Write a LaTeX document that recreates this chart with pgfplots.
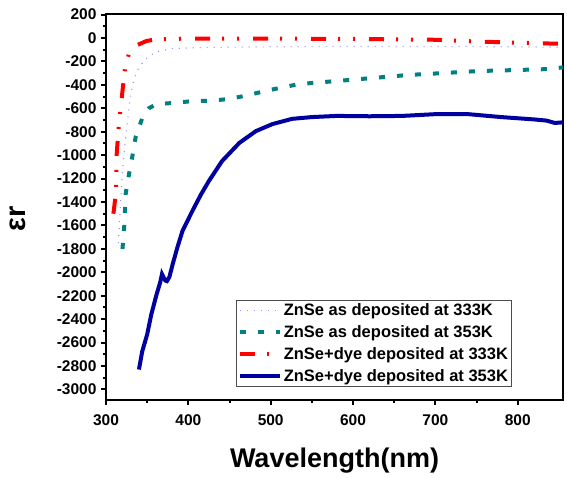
\documentclass[border=0pt]{standalone}
\usepackage{pgfplots}
\pgfplotsset{compat=1.18}
\usepackage{fontspec}
\setmainfont{Liberation Sans}

\definecolor{lav}{RGB}{150,150,255}
\definecolor{tealc}{RGB}{0,128,128}
\definecolor{navyc}{RGB}{0,0,160}

\begin{document}
\begin{tikzpicture}
\begin{axis}[
    width=457pt, height=386pt, scale only axis,
    xmin=300, xmax=855, ymin=-3090, ymax=205,
    xtick={300,400,...,800}, minor x tick num=1,
    ytick={-3000,-2800,...,200}, minor y tick num=1,
    xtick pos=left, ytick pos=left,
    tick align=outside, major tick length=5pt, minor tick length=3pt,
    axis line style={line width=2.5pt},
    every tick/.style={black, line width=2pt},
    ticklabel style={font=\fontsize{15.5}{17}\selectfont\bfseries},
    xticklabel style={yshift=-6pt},
    yticklabel style={xshift=-1pt},
    /pgf/number format/assume math mode=true,
    /pgf/number format/1000 sep={},
    xlabel={Wavelength(nm)}, ylabel={εr},
    xlabel style={font=\fontsize{27}{30}\selectfont\bfseries,
        at={(axis description cs:0.5,-0.176)}, anchor=base},
    ylabel style={font=\fontsize{29}{32}\selectfont\bfseries,
        at={(axis description cs:-0.193,0.47)}, anchor=center},
    legend style={at={(0.888,0.034)}, anchor=south east,
        font=\fontsize{16.5}{18}\selectfont\bfseries,
        draw=black!70, line width=0.6pt, inner sep=1.5pt, row sep=4.5pt,
        cells={anchor=west}},
    legend image code/.code={\draw[#1] (0pt,0pt) -- (40pt,0pt);},
]
% ZnSe as deposited at 333K
\addplot[lav, line width=1.2pt, dash pattern=on 1pt off 6pt] coordinates {
    (315,-1750) (317,-1500) (319,-1250) (321,-1050) (324,-850) (327,-650)
    (330,-480) (334,-350) (340,-250) (348,-180) (360,-120) (380,-90)
    (420,-80) (500,-75) (600,-72) (700,-72) (800,-75) (855,-80)
};
\addlegendentry{ZnSe as deposited at 333K}
% ZnSe as deposited at 353K
\addplot[tealc, line width=4pt, dash pattern=on 6pt off 12pt] coordinates {
    (320,-1800) (322,-1630) (323,-1480) (324,-1325) (328,-1160) (332,-1010)
    (336,-846) (344,-685) (352,-600) (361,-565) (380,-555) (403,-540)
    (428,-535) (450,-520) (471,-490) (493,-453) (515,-420) (535,-393)
    (580,-367) (623,-342) (666,-316) (710,-299) (752,-282) (795,-274)
    (838,-265) (855,-250)
};
\addlegendentry{ZnSe as deposited at 353K}
% ZnSe+dye deposited at 333K
\addplot[red, line width=4pt,
    dash pattern=on 15pt off 12pt on 2pt off 13pt on 2pt off 14pt] coordinates {
    (309,-1500) (312,-1325) (313,-990) (315,-795) (317,-650) (320,-453)
    (323,-265) (328,-128) (338,-60) (349,-26) (361,-10) (400,-5)
    (500,-5) (600,-8) (700,-15) (750,-30) (800,-40) (855,-50)
};
\addlegendentry{ZnSe+dye deposited at 333K}
% ZnSe+dye deposited at 353K
\addplot[navyc, line width=4pt] coordinates {
    (340,-2830) (344,-2675) (350,-2530) (355,-2360) (361,-2200) (366,-2080)
    (368,-2015) (372,-2070) (374,-2075) (377,-2040) (381,-1930) (387,-1780)
    (393,-1645) (405,-1475) (415,-1340) (425,-1220) (441,-1050) (462,-895)
    (482,-795) (502,-735) (526,-690) (550,-675) (580,-665) (620,-668)
    (660,-665) (700,-650) (740,-650) (780,-675) (800,-685) (820,-695)
    (835,-705) (845,-725) (855,-720)
};
\addlegendentry{ZnSe+dye deposited at 353K}
\end{axis}
\pgfresetboundingbox
\path (current axis.south west) ++(-106pt,-77pt) coordinate (bbl)
      (current axis.north east) ++(4pt,14pt) coordinate (bbr);
\useasboundingbox (bbl) rectangle (bbr);
\end{tikzpicture}
\end{document}
